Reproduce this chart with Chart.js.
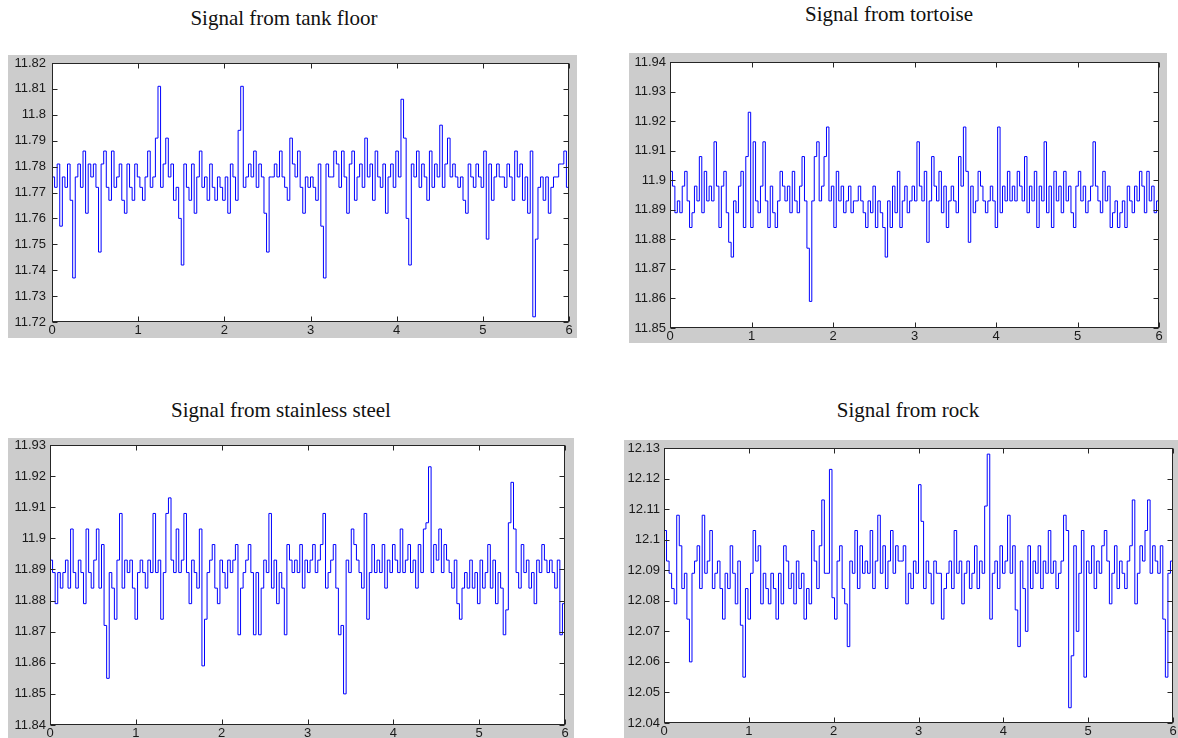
<!DOCTYPE html>
<html>
<head>
<meta charset="utf-8">
<script src="https://cdn.jsdelivr.net/npm/chart.js@4/dist/chart.umd.min.js"></script>
<style>
  html, body { margin: 0; padding: 0; background: #fff; }
  body { position: relative; width: 1178px; height: 738px; overflow: hidden; }
  .title { position: absolute; font-family: "Liberation Serif", "Times New Roman", serif; font-size: 21px; color: #111; white-space: nowrap; transform: translate(-50%, -50%); }
  .panel { position: absolute; }
</style>
</head>
<body>
<div class="title" style="left:284px; top:18px;">Signal from tank floor</div>
<div class="title" style="left:889px; top:14px;">Signal from tortoise</div>
<div class="title" style="left:281px; top:410px;">Signal from stainless steel</div>
<div class="title" style="left:908px; top:410px;">Signal from rock</div>

<div class="panel" style="left:8px; top:55px; width:569px; height:283px;"><canvas id="c1"></canvas></div>
<div class="panel" style="left:629px; top:53px; width:538px; height:290px;"><canvas id="c2"></canvas></div>
<div class="panel" style="left:8px; top:438px; width:566px; height:300px;"><canvas id="c3"></canvas></div>
<div class="panel" style="left:624px; top:440px; width:554px; height:298px;"><canvas id="c4"></canvas></div>

<script>
// sample spacing of the recorded signals (seconds)
var SAMPLE_STEP = 0.03;
var xTicks = [0, 1, 2, 3, 4, 5, 6];

var tankFloor = [
  11.776, 11.772, 11.781, 11.757, 11.776, 11.772, 11.781, 11.767, 11.737, 11.776, 11.781, 11.772, 11.786, 11.762, 11.781, 11.776, 11.781, 11.772, 11.747, 11.781,
  11.786, 11.772, 11.767, 11.786, 11.772, 11.776, 11.781, 11.767, 11.762, 11.781, 11.772, 11.767, 11.781, 11.776, 11.772, 11.767, 11.776, 11.786, 11.772, 11.776,
  11.791, 11.811, 11.772, 11.781, 11.791, 11.776, 11.781, 11.767, 11.772, 11.760, 11.742, 11.781, 11.772, 11.767, 11.781, 11.762, 11.776, 11.786, 11.772, 11.776,
  11.767, 11.781, 11.772, 11.767, 11.776, 11.772, 11.767, 11.776, 11.762, 11.781, 11.776, 11.767, 11.794, 11.811, 11.772, 11.776, 11.781, 11.776, 11.786, 11.772,
  11.781, 11.776, 11.762, 11.747, 11.776, 11.776, 11.781, 11.776, 11.786, 11.776, 11.772, 11.767, 11.791, 11.781, 11.776, 11.786, 11.772, 11.762, 11.776, 11.772,
  11.776, 11.772, 11.767, 11.781, 11.757, 11.737, 11.781, 11.776, 11.776, 11.786, 11.781, 11.772, 11.786, 11.776, 11.762, 11.781, 11.786, 11.767, 11.776, 11.781,
  11.772, 11.791, 11.776, 11.781, 11.767, 11.786, 11.776, 11.772, 11.781, 11.762, 11.776, 11.781, 11.772, 11.786, 11.776, 11.806, 11.791, 11.760, 11.742, 11.781,
  11.776, 11.786, 11.772, 11.781, 11.776, 11.767, 11.786, 11.772, 11.781, 11.776, 11.796, 11.772, 11.781, 11.791, 11.776, 11.781, 11.776, 11.772, 11.776, 11.767,
  11.762, 11.781, 11.776, 11.772, 11.781, 11.776, 11.772, 11.786, 11.752, 11.781, 11.767, 11.776, 11.781, 11.776, 11.776, 11.772, 11.781, 11.776, 11.767, 11.786,
  11.776, 11.781, 11.767, 11.776, 11.762, 11.786, 11.722, 11.752, 11.772, 11.776, 11.767, 11.776, 11.762, 11.772, 11.776, 11.776, 11.781, 11.781, 11.786, 11.772, 11.776
];
var tankFloorTicks = [11.72, 11.73, 11.74, 11.75, 11.76, 11.77, 11.78, 11.79, 11.8, 11.81, 11.82];

var tortoise = [
  11.903, 11.898, 11.889, 11.893, 11.889, 11.898, 11.903, 11.893, 11.884, 11.889, 11.898, 11.893, 11.908, 11.889, 11.903, 11.893, 11.898, 11.893, 11.913, 11.898,
  11.884, 11.898, 11.903, 11.889, 11.879, 11.874, 11.893, 11.889, 11.898, 11.903, 11.884, 11.908, 11.923, 11.884, 11.913, 11.893, 11.889, 11.898, 11.913, 11.893,
  11.884, 11.898, 11.889, 11.884, 11.893, 11.903, 11.898, 11.893, 11.898, 11.889, 11.903, 11.893, 11.889, 11.898, 11.908, 11.893, 11.877, 11.859, 11.893, 11.908,
  11.913, 11.893, 11.898, 11.908, 11.918, 11.893, 11.898, 11.884, 11.903, 11.893, 11.898, 11.889, 11.893, 11.898, 11.889, 11.893, 11.893, 11.898, 11.893, 11.889,
  11.884, 11.893, 11.889, 11.898, 11.884, 11.893, 11.889, 11.884, 11.874, 11.893, 11.884, 11.898, 11.889, 11.903, 11.884, 11.893, 11.898, 11.889, 11.893, 11.898,
  11.893, 11.913, 11.898, 11.893, 11.903, 11.879, 11.893, 11.908, 11.898, 11.893, 11.903, 11.889, 11.898, 11.884, 11.893, 11.898, 11.893, 11.889, 11.908, 11.898,
  11.918, 11.903, 11.879, 11.898, 11.889, 11.893, 11.903, 11.898, 11.893, 11.889, 11.893, 11.898, 11.893, 11.884, 11.918, 11.889, 11.898, 11.893, 11.903, 11.893,
  11.898, 11.893, 11.903, 11.898, 11.893, 11.908, 11.889, 11.898, 11.893, 11.903, 11.884, 11.898, 11.893, 11.913, 11.889, 11.898, 11.884, 11.903, 11.893, 11.898,
  11.889, 11.903, 11.893, 11.898, 11.889, 11.884, 11.898, 11.903, 11.893, 11.898, 11.889, 11.893, 11.898, 11.913, 11.898, 11.893, 11.889, 11.903, 11.893, 11.898,
  11.884, 11.889, 11.893, 11.884, 11.889, 11.893, 11.884, 11.898, 11.893, 11.889, 11.898, 11.893, 11.903, 11.898, 11.889, 11.903, 11.893, 11.898, 11.889, 11.893, 11.889
];
var tortoiseTicks = [11.85, 11.86, 11.87, 11.88, 11.89, 11.9, 11.91, 11.92, 11.93, 11.94];

var stainless = [
  11.893, 11.889, 11.879, 11.889, 11.884, 11.889, 11.893, 11.884, 11.903, 11.889, 11.884, 11.893, 11.889, 11.879, 11.903, 11.889, 11.884, 11.893, 11.903, 11.884,
  11.898, 11.872, 11.855, 11.889, 11.884, 11.874, 11.893, 11.908, 11.884, 11.893, 11.889, 11.893, 11.884, 11.874, 11.889, 11.893, 11.889, 11.884, 11.893, 11.889,
  11.908, 11.889, 11.893, 11.874, 11.889, 11.908, 11.913, 11.893, 11.889, 11.903, 11.889, 11.893, 11.908, 11.889, 11.879, 11.893, 11.889, 11.884, 11.903, 11.859,
  11.874, 11.889, 11.893, 11.898, 11.884, 11.879, 11.893, 11.889, 11.884, 11.893, 11.889, 11.893, 11.898, 11.869, 11.884, 11.889, 11.893, 11.898, 11.889, 11.869,
  11.889, 11.869, 11.884, 11.893, 11.889, 11.908, 11.884, 11.893, 11.879, 11.889, 11.884, 11.869, 11.898, 11.893, 11.889, 11.893, 11.889, 11.898, 11.884, 11.893,
  11.889, 11.893, 11.898, 11.889, 11.893, 11.898, 11.908, 11.884, 11.889, 11.893, 11.898, 11.884, 11.869, 11.872, 11.850, 11.893, 11.889, 11.903, 11.898, 11.893,
  11.889, 11.884, 11.908, 11.874, 11.889, 11.898, 11.889, 11.893, 11.889, 11.898, 11.884, 11.893, 11.889, 11.898, 11.893, 11.889, 11.903, 11.889, 11.893, 11.898,
  11.889, 11.893, 11.884, 11.898, 11.889, 11.903, 11.905, 11.923, 11.889, 11.898, 11.893, 11.903, 11.889, 11.898, 11.893, 11.889, 11.884, 11.893, 11.879, 11.874,
  11.884, 11.889, 11.884, 11.893, 11.884, 11.889, 11.879, 11.893, 11.884, 11.889, 11.898, 11.884, 11.893, 11.879, 11.889, 11.884, 11.869, 11.877, 11.905, 11.918,
  11.903, 11.889, 11.884, 11.898, 11.889, 11.893, 11.884, 11.889, 11.879, 11.893, 11.889, 11.898, 11.893, 11.889, 11.893, 11.889, 11.884, 11.893, 11.869, 11.879, 11.893
];
var stainlessTicks = [11.84, 11.85, 11.86, 11.87, 11.88, 11.89, 11.9, 11.91, 11.92, 11.93];

var rock = [
  12.103, 12.093, 12.089, 12.084, 12.079, 12.108, 12.098, 12.084, 12.089, 12.074, 12.060, 12.089, 12.093, 12.098, 12.084, 12.108, 12.089, 12.093, 12.103, 12.084,
  12.089, 12.093, 12.084, 12.074, 12.089, 12.084, 12.098, 12.089, 12.079, 12.093, 12.072, 12.055, 12.084, 12.074, 12.089, 12.103, 12.093, 12.098, 12.079, 12.089,
  12.084, 12.079, 12.089, 12.084, 12.074, 12.089, 12.079, 12.098, 12.093, 12.084, 12.089, 12.079, 12.093, 12.084, 12.089, 12.074, 12.084, 12.079, 12.103, 12.093,
  12.084, 12.098, 12.113, 12.089, 12.089, 12.123, 12.081, 12.074, 12.093, 12.098, 12.084, 12.079, 12.065, 12.093, 12.089, 12.103, 12.084, 12.098, 12.089, 12.093,
  12.089, 12.103, 12.084, 12.093, 12.108, 12.089, 12.098, 12.084, 12.093, 12.103, 12.089, 12.098, 12.093, 12.093, 12.098, 12.079, 12.089, 12.084, 12.093, 12.089,
  12.118, 12.106, 12.084, 12.093, 12.089, 12.079, 12.093, 12.089, 12.089, 12.074, 12.084, 12.089, 12.093, 12.084, 12.103, 12.089, 12.093, 12.079, 12.089, 12.093,
  12.084, 12.089, 12.098, 12.084, 12.093, 12.089, 12.111, 12.128, 12.074, 12.089, 12.093, 12.084, 12.098, 12.089, 12.093, 12.108, 12.089, 12.098, 12.077, 12.065,
  12.093, 12.084, 12.070, 12.098, 12.084, 12.093, 12.089, 12.098, 12.084, 12.093, 12.089, 12.103, 12.089, 12.093, 12.084, 12.089, 12.093, 12.108, 12.103, 12.045,
  12.062, 12.098, 12.070, 12.089, 12.103, 12.055, 12.093, 12.089, 12.098, 12.084, 12.093, 12.089, 12.098, 12.103, 12.093, 12.079, 12.089, 12.098, 12.084, 12.093,
  12.089, 12.084, 12.093, 12.098, 12.113, 12.079, 12.089, 12.098, 12.093, 12.103, 12.113, 12.089, 12.098, 12.093, 12.089, 12.098, 12.074, 12.055, 12.089, 12.093, 12.084
];
var rockTicks = [12.04, 12.05, 12.06, 12.07, 12.08, 12.09, 12.1, 12.11, 12.12, 12.13];

// grey figure background, white axes, black box with inward ticks (matlab look)
var matlabAxes = {
  id: 'matlabAxes',
  beforeDraw: function (chart) {
    var ctx = chart.ctx, a = chart.chartArea;
    ctx.save();
    ctx.fillStyle = '#cccccc';
    ctx.fillRect(0, 0, chart.width, chart.height);
    ctx.fillStyle = '#ffffff';
    ctx.fillRect(a.left, a.top, a.right - a.left, a.bottom - a.top);
    ctx.restore();
  },
  afterDraw: function (chart) {
    var ctx = chart.ctx, a = chart.chartArea;
    var L = Math.round(a.left) + 0.5, R = Math.round(a.right) - 0.5;
    var T = Math.round(a.top) + 0.5, B = Math.round(a.bottom) - 0.5;
    var len = 5;
    ctx.save();
    ctx.strokeStyle = '#262626';
    ctx.lineWidth = 1;
    ctx.beginPath();
    chart.scales.x.ticks.forEach(function (t) {
      var px = Math.round(chart.scales.x.getPixelForValue(t.value)) + 0.5;
      ctx.moveTo(px, B); ctx.lineTo(px, B - len);
      ctx.moveTo(px, T); ctx.lineTo(px, T + len);
    });
    chart.scales.y.ticks.forEach(function (t) {
      var py = Math.round(chart.scales.y.getPixelForValue(t.value)) + 0.5;
      ctx.moveTo(L, py); ctx.lineTo(L + len, py);
      ctx.moveTo(R, py); ctx.lineTo(R - len, py);
    });
    ctx.stroke();
    ctx.strokeRect(L, T, R - L, B - T);
    ctx.restore();
  }
};

function makePanel(id, values, yTicks, box) {
  var points = values.map(function (v, i) { return { x: i * SAMPLE_STEP, y: v }; });
  var tickFont = { family: '"Liberation Sans", Arial, sans-serif', size: 13 };
  new Chart(document.getElementById(id), {
    type: 'line',
    data: {
      datasets: [{
        data: points,
        borderColor: '#0000ff',
        borderWidth: 1,
        pointRadius: 0,
        stepped: true,
        fill: false
      }]
    },
    options: {
      responsive: true,
      maintainAspectRatio: false,
      animation: false,
      events: [],
      layout: { padding: { left: 0, top: box.top, right: box.right, bottom: 0 } },
      plugins: { legend: { display: false }, tooltip: { enabled: false } },
      scales: {
        x: {
          type: 'linear',
          min: 0,
          max: 6,
          grid: { display: false, drawTicks: false, tickLength: 0 },
          border: { display: false },
          afterBuildTicks: function (s) { s.ticks = xTicks.map(function (v) { return { value: v }; }); },
          afterFit: function (s) { s.height = box.bottom; s.paddingLeft = 0; s.paddingRight = 0; },
          ticks: { color: '#1a1a1a', font: tickFont, padding: 1, maxRotation: 0, autoSkip: false,
            callback: function (v) { return String(v); } }
        },
        y: {
          min: yTicks[0],
          max: yTicks[yTicks.length - 1],
          grid: { display: false, drawTicks: false, tickLength: 0 },
          border: { display: false },
          afterBuildTicks: function (s) { s.ticks = yTicks.map(function (v) { return { value: v }; }); },
          afterFit: function (s) { s.width = box.left; s.paddingTop = 0; s.paddingBottom = 0; },
          ticks: { color: '#1a1a1a', font: tickFont, padding: box.gap, autoSkip: false,
            callback: function (v) { return String(Number(v.toFixed(2))); } }
        }
      }
    },
    plugins: [matlabAxes]
  });
}

makePanel('c1', tankFloor, tankFloorTicks, { left: 44, top: 8, right: 8, bottom: 16, gap: 6 });
makePanel('c2', tortoise, tortoiseTicks, { left: 41, top: 9, right: 8, bottom: 15, gap: 4 });
makePanel('c3', stainless, stainlessTicks, { left: 42, top: 7, right: 9, bottom: 13, gap: 4 });
makePanel('c4', rock, rockTicks, { left: 40, top: 8, right: 5, bottom: 15, gap: 4 });
</script>
</body>
</html>
